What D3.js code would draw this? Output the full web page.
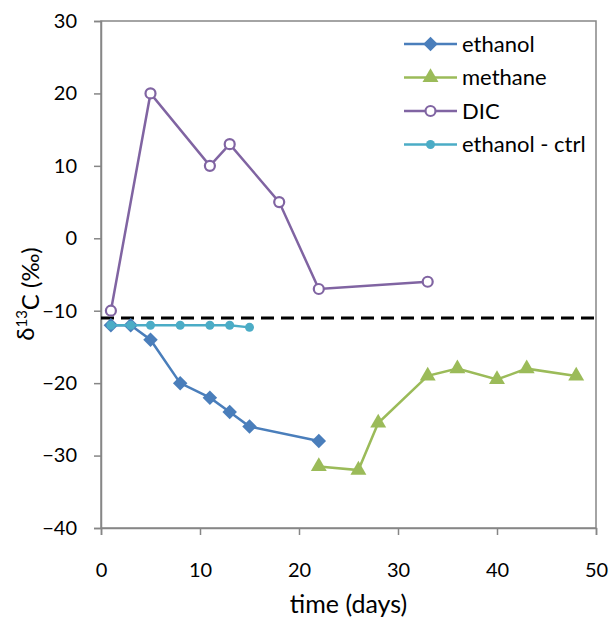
<!DOCTYPE html>
<html>
<head>
<meta charset="utf-8">
<script src="https://cdn.jsdelivr.net/npm/d3@7"></script>
<style>
  body { margin: 0; background: #fff; }
  text { font-family: Lato, "Open Sans", sans-serif; fill: #000; }
</style>
</head>
<body>
<div id="chart"></div>
<script>
// data
const ethanolDays = [1, 3, 5, 8, 11, 13, 15, 22];
const ethanolVals = [-12, -12, -14, -20, -22, -24, -26, -28];
const methaneDays = [22, 26, 28, 33, 36, 40, 43, 48];
const methaneVals = [-31.5, -32, -25.5, -19, -18, -19.5, -18, -19];
const dicDays = [1, 5, 11, 13, 18, 22, 33];
const dicVals = [-10, 20, 10, 13, 5, -7, -6];
const ctrlDays = [1, 3, 5, 8, 11, 13, 15];
const ctrlVals = [-12, -12, -12, -12, -12, -12, -12.3];
const refLine = -11;
const xTicks = [0, 10, 20, 30, 40, 50];
const yTicks = [-40, -30, -20, -10, 0, 10, 20, 30];

const width = 610, height = 621;
const margin = { top: 21, right: 14, bottom: 93, left: 101 };
const w = width - margin.left - margin.right;
const h = height - margin.top - margin.bottom;

const svg = d3.select("#chart").append("svg")
  .attr("width", width)
  .attr("height", height);

const g = svg.append("g")
  .attr("transform", `translate(${margin.left},${margin.top})`);

const x = d3.scaleLinear().domain([0, 50]).range([0, w]);
const y = d3.scaleLinear().domain([-40, 30]).range([h, 0]);

// plot border
g.append("rect")
  .attr("width", w).attr("height", h)
  .attr("fill", "none").attr("stroke", "#868686").attr("stroke-width", 1.5);

// axes
const xAxis = g.append("g")
  .attr("transform", `translate(0,${h})`)
  .call(d3.axisBottom(x).tickValues(xTicks).tickSize(7).tickPadding(28));
const yAxis = g.append("g")
  .call(d3.axisLeft(y).tickValues(yTicks).tickSize(7).tickPadding(17));
[xAxis, yAxis].forEach(a => {
  a.select(".domain").attr("stroke", "#868686").attr("stroke-width", 1.5);
  a.selectAll(".tick line").attr("stroke", "#868686").attr("stroke-width", 1.5);
  a.selectAll("text").style("font-size", "20px").attr("fill", "#000");
});

// dashed reference line
g.append("line")
  .attr("x1", 0).attr("x2", w)
  .attr("y1", y(refLine)).attr("y2", y(refLine))
  .attr("stroke", "#000").attr("stroke-width", 3)
  .attr("stroke-dasharray", "13,7");

const series = [
  { name: "ethanol", days: ethanolDays, vals: ethanolVals, color: "#4a7ebb", marker: "diamond" },
  { name: "methane", days: methaneDays, vals: methaneVals, color: "#9bbb59", marker: "triangle" },
  { name: "DIC", days: dicDays, vals: dicVals, color: "#8064a2", marker: "open" },
  { name: "ethanol - ctrl", days: ctrlDays, vals: ctrlVals, color: "#4bacc6", marker: "dot" }
];

const line = d3.line().x(d => x(d[0])).y(d => y(d[1]));

function drawMarker(sel, s) {
  if (s.marker === "diamond") {
    sel.append("path")
      .attr("d", d3.symbol(d3.symbolSquare, 105)())
      .attr("transform", "rotate(45)")
      .attr("fill", s.color);
  } else if (s.marker === "triangle") {
    sel.append("path")
      .attr("d", d3.symbol(d3.symbolTriangle, 110)())
      .attr("fill", s.color);
  } else if (s.marker === "open") {
    sel.append("circle").attr("r", 5)
      .attr("fill", "#fff").attr("stroke", s.color).attr("stroke-width", 2.2);
  } else {
    sel.append("circle").attr("r", 4.5).attr("fill", s.color);
  }
}

series.forEach(s => {
  const pts = s.days.map((d, i) => [d, s.vals[i]]);
  g.append("path")
    .datum(pts)
    .attr("d", line)
    .attr("fill", "none")
    .attr("stroke", s.color)
    .attr("stroke-width", 2.5);
  g.selectAll(null)
    .data(pts)
    .enter()
    .append("g")
      .attr("transform", d => `translate(${x(d[0])},${y(d[1])})`)
      .each(function () { drawMarker(d3.select(this), s); });
});

// legend
const legend = svg.append("g").attr("transform", "translate(404,44)");
series.forEach((s, i) => {
  const row = legend.append("g").attr("transform", `translate(0,${i * 33.5})`);
  row.append("line")
    .attr("x1", 0).attr("x2", 53)
    .attr("stroke", s.color).attr("stroke-width", 2.5);
  drawMarker(row.append("g").attr("transform", "translate(26.5,0)"), s);
  row.append("text")
    .attr("x", 58).attr("dy", "0.35em")
    .style("font-size", "22px")
    .text(s.name);
});

// axis titles
svg.append("text")
  .attr("x", margin.left + w / 2)
  .attr("y", 613)
  .attr("text-anchor", "middle")
  .style("font-size", "25px")
  .text("time (days)");

const yt = svg.append("text")
  .attr("transform", "translate(34,294) rotate(-90)")
  .attr("text-anchor", "middle")
  .style("font-size", "24px");
yt.append("tspan").text("δ");
yt.append("tspan").attr("dy", "-0.5em").style("font-size", "15px").text("13");
yt.append("tspan").attr("dy", "0.5em").text("C (‰)");
</script>
</body>
</html>
